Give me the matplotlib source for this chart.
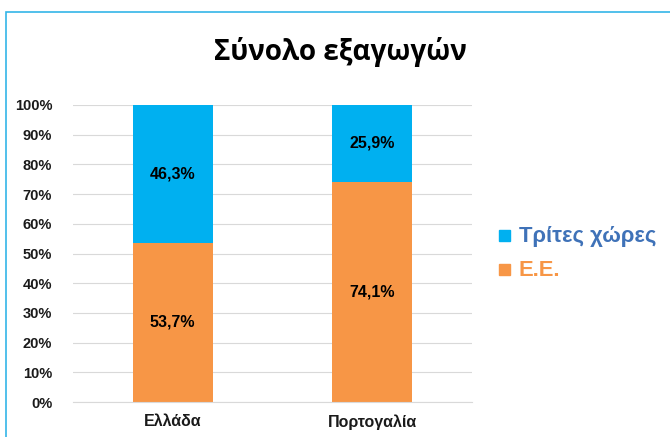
import matplotlib.pyplot as plt
from matplotlib.patches import Rectangle

countries = ['Ελλάδα', 'Πορτογαλία']
eu = [53.7, 74.1]
third = [46.3, 25.9]
series_names = ['Τρίτες χώρες', 'Ε.Ε.']
blue = '#00B0F0'
orange = '#F79646'

plt.rcParams['font.family'] = ['Liberation Sans', 'DejaVu Sans']

fig = plt.figure(figsize=(6.7, 4.37), dpi=100)
ax = fig.add_axes([73 / 670, 1 - 402 / 437, 399 / 670, 297 / 437])

x = range(len(countries))
ax.bar(x, eu, width=0.4, color=orange, zorder=2)
ax.bar(x, third, width=0.4, bottom=eu, color=blue, zorder=2)

for i in x:
    ax.text(i, eu[i] / 2, f'{eu[i]:.1f}%'.replace('.', ','), ha='center', va='center',
            fontsize=11.5, fontweight='bold', color='black')
    ax.text(i, eu[i] + third[i] / 2, f'{third[i]:.1f}%'.replace('.', ','), ha='center',
            va='center', fontsize=11.5, fontweight='bold', color='black')

ax.set_xlim(-0.5, 1.5)
ax.set_ylim(0, 100)
ax.set_yticks(range(0, 101, 10))
ax.set_yticklabels([f'{v}%' for v in range(0, 101, 10)])
ax.set_xticks(list(x))
ax.set_xticklabels(countries)
ax.grid(axis='y', color='#D9D9D9', linewidth=0.8, zorder=0)
for s in ['top', 'right', 'left']:
    ax.spines[s].set_visible(False)
ax.spines['bottom'].set_color('#D9D9D9')
ax.tick_params(length=0, labelsize=10.5, colors='#1a1a1a')
ax.tick_params(axis='x', labelsize=11.5, pad=9)
ax.tick_params(axis='y', pad=15)
for lab in ax.get_xticklabels() + ax.get_yticklabels():
    lab.set_fontweight('bold')

fig.text(340 / 670, 1 - 52 / 437, 'Σύνολο εξαγωγών', ha='center', va='center',
         fontsize=20, fontweight='bold', family=['Open Sans', 'DejaVu Sans'])

# legend
fig.patches.append(Rectangle((499 / 670, 1 - 241 / 437), 11 / 670, 11 / 437,
                             transform=fig.transFigure, color=blue))
fig.text(519 / 670, 1 - 236 / 437, series_names[0], va='center', fontsize=15.8,
         fontweight='bold', color='#3F72B8')
fig.patches.append(Rectangle((499 / 670, 1 - 275 / 437), 11 / 670, 11 / 437,
                             transform=fig.transFigure, color=orange))
fig.text(519 / 670, 1 - 270 / 437, series_names[1], va='center', fontsize=15.8,
         fontweight='bold', color=orange)

# chart border
fig.patches.append(Rectangle((6 / 670, -0.1), 1.1, 1.1 - 12 / 437,
                             transform=fig.transFigure, fill=False,
                             edgecolor='#33B5E8', linewidth=1.2))

fig.savefig('out.png', dpi=100)
